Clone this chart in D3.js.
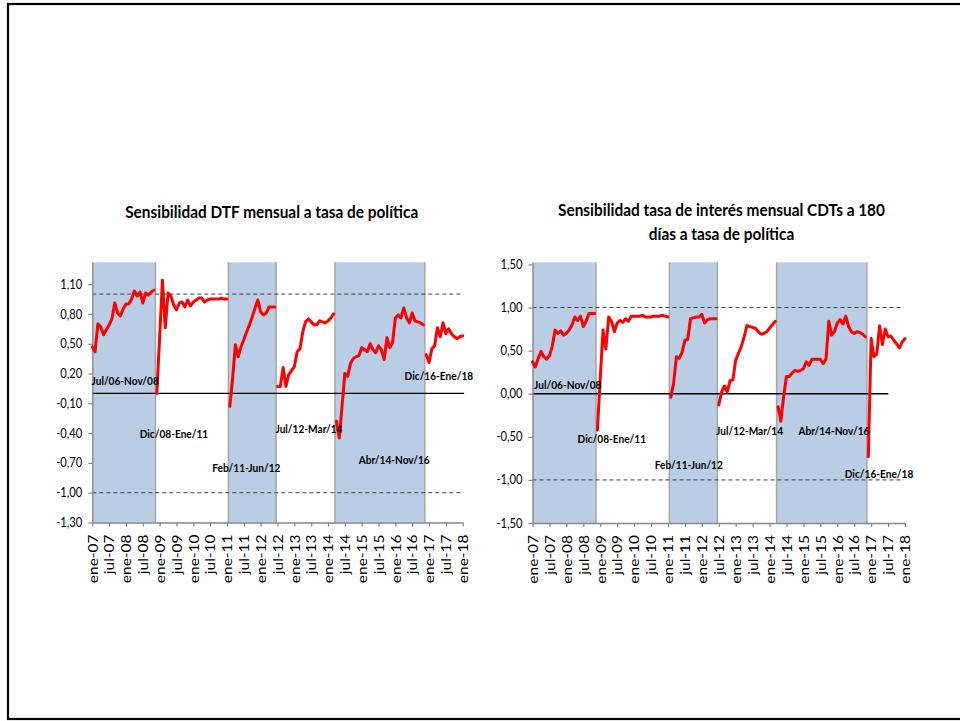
<!DOCTYPE html>
<html><head><meta charset="utf-8">
<script src="https://cdn.jsdelivr.net/npm/d3@7"></script>
<style>html,body{margin:0;padding:0;background:#fff;} svg{display:block;}</style>
</head><body><svg id="c" width="960" height="721"></svg>
<script>
// ---------- DATA ----------
const monthNames = ["ene","feb","mar","abr","may","jun","jul","ago","sep","oct","nov","dic"];
// monthly categories ene-07 .. ene-18
const months = d3.range(133).map(i => monthNames[i % 12] + "-" + String(7 + Math.floor(i / 12)).padStart(2, "0"));
const tickLabels = ["ene-07","jul-07","ene-08","jul-08","ene-09","jul-09","ene-10","jul-10","ene-11","jul-11","ene-12","jul-12",
  "ene-13","jul-13","ene-14","jul-14","ene-15","jul-15","ene-16","jul-16","ene-17","jul-17","ene-18"];

const periods = [
  {label: "Jul/06-Nov/08", first: "jul-06", last: "nov-08", shaded: true},
  {label: "Dic/08-Ene/11", first: "dic-08", last: "ene-11", shaded: false},
  {label: "Feb/11-Jun/12", first: "feb-11", last: "jun-12", shaded: true},
  {label: "Jul/12-Mar/14", first: "jul-12", last: "mar-14", shaded: false},
  {label: "Abr/14-Nov/16", first: "abr-14", last: "nov-16", shaded: true},
  {label: "Dic/16-Ene/18", first: "dic-16", last: "ene-18", shaded: false}
];

// Sensibilidad DTF (left)
const dtfSeg1 = [0.47,0.42,0.70,0.67,0.59,0.64,0.69,0.75,0.91,0.81,0.78,0.85,0.90,0.90,0.95,1.03,0.98,1.02,0.91,1.01,0.99,1.02,1.04];
const dtfSeg2 = [0.00,0.57,1.14,0.66,1.01,0.98,0.89,0.84,0.91,0.92,0.87,0.94,0.88,0.92,0.94,0.96,0.96,0.92,0.94,0.95,0.95,0.95,0.95,0.96,0.95,0.95];
const dtfSeg3 = [-0.13,0.15,0.49,0.37,0.47,0.54,0.62,0.69,0.77,0.86,0.94,0.82,0.79,0.81,0.87,0.87,0.87];
const dtfSeg4 = [0.07,0.07,0.26,0.07,0.19,0.23,0.27,0.42,0.45,0.62,0.72,0.75,0.72,0.69,0.69,0.73,0.72,0.71,0.73,0.76,0.80];
const dtfSeg5 = [-0.28,-0.45,-0.13,0.20,0.17,0.30,0.35,0.37,0.38,0.46,0.44,0.42,0.50,0.44,0.41,0.48,0.44,0.34,0.56,0.46,0.51,0.76,0.79,0.76,0.86,0.76,0.71,0.81,0.73,0.72,0.71,0.69];
const dtfSeg6 = [0.39,0.31,0.45,0.48,0.66,0.57,0.71,0.60,0.65,0.60,0.57,0.55,0.57,0.58];

// Sensibilidad CDT 180 días (right)
const cdtSeg1 = [0.37,0.31,0.41,0.49,0.43,0.40,0.44,0.55,0.74,0.70,0.73,0.68,0.70,0.74,0.80,0.89,0.85,0.90,0.78,0.84,0.93,0.93,0.93];
const cdtSeg2 = [-0.42,0.18,0.74,0.52,0.89,0.84,0.72,0.82,0.85,0.83,0.87,0.84,0.90,0.90,0.90,0.90,0.91,0.89,0.89,0.89,0.90,0.90,0.90,0.91,0.90,0.89];
const cdtSeg3 = [-0.04,0.12,0.43,0.41,0.48,0.62,0.63,0.87,0.88,0.89,0.89,0.92,0.82,0.86,0.87,0.87,0.87];
const cdtSeg4 = [-0.13,0.02,0.09,0.02,0.15,0.16,0.39,0.47,0.55,0.66,0.79,0.78,0.77,0.76,0.72,0.69,0.70,0.72,0.76,0.80,0.84];
const cdtSeg5 = [-0.15,-0.32,-0.03,0.20,0.20,0.24,0.27,0.26,0.27,0.29,0.37,0.33,0.40,0.40,0.40,0.40,0.35,0.40,0.84,0.68,0.72,0.82,0.86,0.81,0.90,0.78,0.72,0.70,0.72,0.71,0.69,0.66];
const cdtSeg6 = [-0.73,0.64,0.43,0.46,0.79,0.57,0.75,0.66,0.67,0.62,0.58,0.53,0.60,0.64];

const dtfTicks = [-1.3,-1.0,-0.7,-0.4,-0.1,0.2,0.5,0.8,1.1];
const cdtTicks = [-1.5,-1.0,-0.5,0,0.5,1.0,1.5];

const dtfSegments = [dtfSeg1,dtfSeg2,dtfSeg3,dtfSeg4,dtfSeg5,dtfSeg6];
const cdtSegments = [cdtSeg1,cdtSeg2,cdtSeg3,cdtSeg4,cdtSeg5,cdtSeg6];

// ---------- LAYOUT / STYLE ----------
const S = 0.88; // horizontal squeeze of text
const FONT = "Lato, 'Liberation Sans', sans-serif";
const RED = "#ff0000", BAND = "#b9cde5", BAND_EDGE = "#a6a6a6", AXIS = "#868686";

function monthIndex(lbl) {
  const [m, y] = lbl.split("-");
  return (+y - 7) * 12 + monthNames.indexOf(m);
}
function fmt(d) { return d.toFixed(2).replace(".", ","); }

const svg = d3.select("#c");
svg.append("rect").attr("width", 960).attr("height", 721).attr("fill", "#fff");
svg.append("rect").attr("x", 8).attr("y", 4).attr("width", 1000).attr("height", 715)
  .attr("fill", "none").attr("stroke", "#000").attr("stroke-width", 2.2);

function addText(parent, x, y, str, size, weight, anchor) {
  return parent.append("text")
    .attr("transform", `translate(${x},${y}) scale(${S},1)`)
    .attr("text-anchor", anchor || "middle")
    .attr("font-family", FONT).attr("font-size", size)
    .attr("font-weight", weight || "normal")
    .attr("fill", "#000").text(str);
}

const charts = [
  { titles: ["Sensibilidad DTF mensual a tasa de política"], titleX: 271.7, titleY: [218],
    segments: dtfSegments, ticks: dtfTicks,
    xRange: [92.3, 462.7], yDomain: [-1.3, 1.32], yRange: [522.5, 262.3],
    zeroEnd: 132.5, dashEnd: 131.7,
    labelPos: [[11.7,0.08],[29.1,-0.45],[54.9,-0.79],[77.2,-0.40],[107.6,-0.71],[123.5,0.13]] },
  { titles: ["Sensibilidad tasa de interés mensual CDTs a 180", "días a tasa de política"], titleX: 721.5, titleY: [216, 240],
    segments: cdtSegments, ticks: cdtTicks,
    xRange: [532.5, 905], yDomain: [-1.5, 1.525], yRange: [523, 262.3],
    zeroEnd: 126.1, dashEnd: 131.6,
    labelPos: [[12.5,0.05],[28.1,-0.57],[55.4,-0.87],[76.9,-0.48],[106.8,-0.48],[122.8,-0.98]] }
];

charts.forEach(cfg => {
  const x = d3.scaleLinear().domain([0, months.length - 1]).range(cfg.xRange);
  const y = d3.scaleLinear().domain(cfg.yDomain).range(cfg.yRange);
  const g = svg.append("g");
  const top = cfg.yRange[1], bot = cfg.yRange[0];

  // shaded periods
  periods.filter(p => p.shaded).forEach(p => {
    const i0 = Math.max(0, monthIndex(p.first) - 0.5);
    const i1 = Math.min(months.length - 1, monthIndex(p.last) + 0.5);
    g.append("rect").attr("x", x(i0)).attr("y", top).attr("width", x(i1) - x(i0)).attr("height", bot - top)
      .attr("fill", BAND);
    [i0, i1].forEach(i => {
      if (i > 0) g.append("line").attr("x1", x(i)).attr("x2", x(i)).attr("y1", top).attr("y2", bot)
        .attr("stroke", BAND_EDGE).attr("stroke-width", 1.5);
    });
  });

  // reference lines
  [1, -1].forEach(v => {
    g.append("line").attr("x1", x(0)).attr("x2", x(cfg.dashEnd)).attr("y1", y(v)).attr("y2", y(v))
      .attr("stroke", "#404040").attr("stroke-width", 1).attr("stroke-dasharray", "4,3");
  });
  g.append("line").attr("x1", x(0)).attr("x2", x(cfg.zeroEnd)).attr("y1", y(0)).attr("y2", y(0))
    .attr("stroke", "#000").attr("stroke-width", 1.3);

  // y axis
  const ya = g.append("g").attr("transform", `translate(${x(0)},0)`)
    .call(d3.axisLeft(y).tickValues(cfg.ticks).tickSize(4).tickSizeOuter(0).tickPadding(6).tickFormat(fmt));
  ya.select(".domain").attr("stroke", AXIS).attr("stroke-width", 1.3);
  ya.selectAll(".tick line").attr("stroke", AXIS).attr("stroke-width", 1.2);
  ya.selectAll(".tick text").attr("font-family", FONT).attr("font-size", 12.7).attr("fill", "#000")
    .attr("transform", `scale(${S},1)`).attr("x", -10 / S);

  // x axis
  const xa = g.append("g").attr("transform", `translate(0,${bot})`)
    .call(d3.axisBottom(x).tickValues(d3.range(0, months.length, 6)).tickSize(4).tickSizeOuter(0)
      .tickFormat((d, i) => tickLabels[i]));
  xa.select(".domain").attr("stroke", AXIS).attr("stroke-width", 1.6);
  xa.selectAll(".tick line").attr("stroke", AXIS).attr("stroke-width", 1.2);
  xa.selectAll(".tick text").attr("font-family", FONT).attr("font-size", 15.5).attr("fill", "#000")
    .attr("text-anchor", "end").attr("x", -12).attr("y", 0).attr("dy", "0.35em")
    .attr("transform", `scale(${S},1) rotate(-90)`);

  // series segments
  const line = d3.line().x(d => x(d[0])).y(d => y(d[1]));
  let start = 0;
  cfg.segments.forEach(seg => {
    const pts = seg.map((v, k) => [start + k, v]);
    g.append("path").attr("d", line(pts)).attr("fill", "none").attr("stroke", RED)
      .attr("stroke-width", 3).attr("stroke-linejoin", "round").attr("stroke-linecap", "round");
    start += seg.length;
  });

  // period labels
  periods.forEach((p, k) => {
    const [m, v] = cfg.labelPos[k];
    addText(g, x(m), y(v), p.label, 11.5, "bold");
  });

  // title
  cfg.titles.forEach((t, k) => addText(g, cfg.titleX, cfg.titleY[k], t, 17.5, "bold"));
});
</script>
</body></html>
